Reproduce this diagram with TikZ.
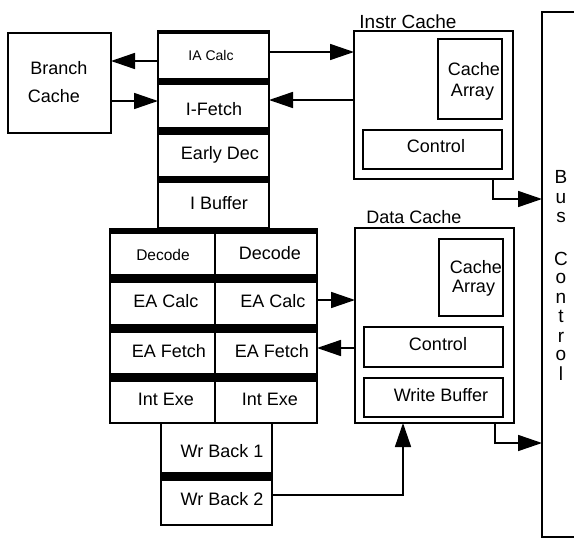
\documentclass[tikz,border=0pt]{standalone}
\usepackage{fontspec}
\setmainfont{Liberation Sans}
\usetikzlibrary{arrows.meta}

\begin{document}
\begin{tikzpicture}[x=1pt,y=-1pt,
  outerbox/.style={draw, line width=2.6pt, inner sep=0pt, outer sep=0pt},
  stagebox/.style={draw, line width=2pt, inner sep=0pt, outer sep=0pt},
  innerbox/.style={draw, line width=1.6pt, inner sep=0pt, outer sep=0pt},
  band/.style={fill=black},
  txt/.style={inner sep=0pt, anchor=base, font=\fontsize{18}{21}\selectfont},
  smalltxt/.style={txt, font=\fontsize{14}{16}\selectfont},
  midtxt/.style={txt, font=\fontsize{15.5}{18}\selectfont},
  arr/.style={line width=1.6pt, -{Triangle[length=24pt,width=16pt]}}]

\useasboundingbox (0,0) rectangle (574,541);

% Branch cache
\node[outerbox, minimum width=103, minimum height=100] (bc) at (59.5,83) {};
\node[txt] (bct1) at (59,74) {Branch};
\node[txt] (bct2) at (54,102) {Cache};

% Front-end pipeline column
\node[stagebox, minimum width=111, minimum height=47] (ia) at (213.5,55.5) {};
\node[stagebox, minimum width=111, minimum height=44] (ifetch) at (213.5,106) {};
\node[stagebox, minimum width=111, minimum height=43] (edec) at (213.5,155.5) {};
\node[stagebox, minimum width=111, minimum height=46] (ibuf) at (213.5,205) {};
\fill[band] (157,30) rectangle (270,34);
\fill[band] (157,79) rectangle (270,84);
\fill[band] (157,128) rectangle (270,134);
\fill[band] (157,177) rectangle (270,182);
\node[smalltxt] (iat) at (211,60) {IA Calc};
\node[txt] (ift) at (214,115) {I-Fetch};
\node[txt] (edt) at (220,159) {Early Dec};
\node[txt] (ibt) at (219,209) {I Buffer};

% Dual execution pipelines
\node[stagebox, minimum width=105, minimum height=42] (decL) at (162.5,254) {};
\node[stagebox, minimum width=102, minimum height=42] (decR) at (266,254) {};
\node[stagebox, minimum width=105, minimum height=43] (eacL) at (162.5,303.5) {};
\node[stagebox, minimum width=102, minimum height=43] (eacR) at (266,303.5) {};
\node[stagebox, minimum width=105, minimum height=42] (eafL) at (162.5,353) {};
\node[stagebox, minimum width=102, minimum height=42] (eafR) at (266,353) {};
\node[stagebox, minimum width=105, minimum height=42] (ieL) at (162.5,402) {};
\node[stagebox, minimum width=102, minimum height=42] (ieR) at (266,402) {};
\fill[band] (109,228) rectangle (318,233);
\fill[band] (109,275) rectangle (318,282);
\fill[band] (109,325) rectangle (318,332);
\fill[band] (109,374) rectangle (318,381);
\node[midtxt] (decLt) at (163,260) {Decode};
\node[txt] (decRt) at (270,259) {Decode};
\node[txt] (eacLt) at (166,307) {EA Calc};
\node[txt] (eacRt) at (273,307) {EA Calc};
\node[txt] (eafLt) at (169,357) {EA Fetch};
\node[txt] (eafRt) at (272,357) {EA Fetch};
\node[txt] (ieLt) at (166,405) {Int Exe};
\node[txt] (ieRt) at (270,405) {Int Exe};

% Write-back stages
\node[stagebox, minimum width=111, minimum height=50] (wb1) at (216.5,448) {};
\node[stagebox, minimum width=111, minimum height=45] (wb2) at (216.5,502.5) {};
\fill[band] (160,473) rectangle (273,480);
\node[txt] (wb1t) at (222,457) {Wr Back 1};
\node[txt] (wb2t) at (222,505) {Wr Back 2};

% Instruction cache
\node[outerbox, minimum width=159, minimum height=148] (ic) at (433.5,105) {};
\node[innerbox, minimum width=64, minimum height=80] (icarr) at (470,79) {};
\node[innerbox, minimum width=139, minimum height=39] (icctl) at (432.5,149.5) {};
\node[txt, font=\fontsize{19}{22}\selectfont] (ict) at (408,28) {Instr Cache};
\node[txt] (icat1) at (474,75) {Cache};
\node[txt] (icat2) at (472.5,96.5) {Array};
\node[txt] (icct) at (436,152) {Control};

% Data cache
\node[outerbox, minimum width=159, minimum height=195] (dc) at (434.5,325.5) {};
\node[innerbox, minimum width=64, minimum height=77] (dcarr) at (471,277.5) {};
\node[innerbox, minimum width=139, minimum height=40] (dcctl) at (433.5,347) {};
\node[innerbox, minimum width=139, minimum height=39] (dcwb) at (433.5,397.5) {};
\node[txt] (dct) at (414,223) {Data Cache};
\node[txt] (dcat1) at (476,273) {Cache};
\node[txt] (dcat2) at (473.5,292) {Array};
\node[txt] (dcct) at (438,350) {Control};
\node[txt] (dcwt) at (441,401) {Write Buffer};

% Bus control
\node[outerbox, line width=2.2pt, minimum width=60, minimum height=525] (bus) at (572,274.5) {};
\foreach \c/\y [count=\i] in {B/183,u/203,s/222,C/265,o/283,n/303,t/322,r/342,o/360,l/380}
  \node[txt, font=\fontsize{19}{22}\selectfont] (bus\i) at (561,\y) {\c};

% Connections
\coordinate (a1) at ([yshift=3.5pt]ia.east);
\draw[arr] (a1) -- (a1 -| ic.west);
\coordinate (a2) at ([yshift=6pt]ifetch.east);
\draw[arr] (a2 -| ic.west) -- (a2);
\coordinate (a3) at ([yshift=-5.5pt]ia.west);
\draw[arr] (a3) -- (a3 -| bc.east);
\coordinate (a4) at ([yshift=5pt]ifetch.west);
\draw[arr] (a4 -| bc.east) -- (a4);
\coordinate (a5) at ([yshift=3.5pt]eacR.east);
\draw[arr] (a5) -- (a5 -| dc.west);
\coordinate (a6) at ([yshift=5pt]eafR.east);
\draw[arr] (a6 -| dc.west) -- (a6);
\coordinate (a7) at ([yshift=7.5pt]wb2.east);
\coordinate (a7t) at ([xshift=-31.5pt]dc.south);
\draw[arr] (a7) -| (a7t);
\coordinate (a8) at ([xshift=59.5pt]ic.south);
\coordinate (a8b) at ([yshift=-20pt]a8);
\draw[arr] (a8) -- (a8b) -- (a8b -| bus.west);
\coordinate (a9) at ([xshift=60.5pt]dc.south);
\coordinate (a9b) at ([yshift=-20pt]a9);
\draw[arr] (a9) -- (a9b) -- (a9b -| bus.west);
\end{tikzpicture}
\end{document}
